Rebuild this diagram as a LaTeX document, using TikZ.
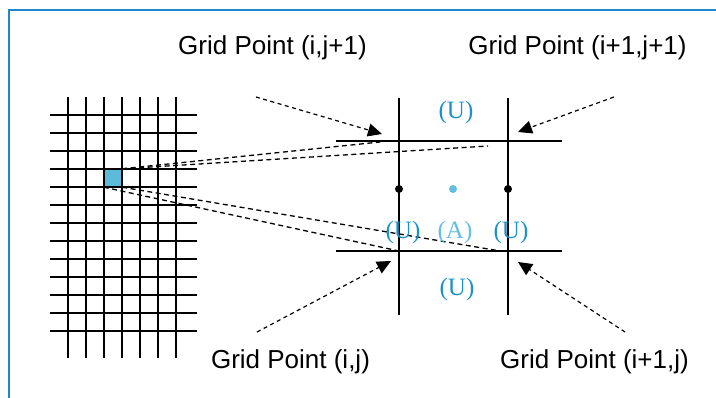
\documentclass[tikz,border=0pt]{standalone}
\usepackage{fontspec}
\setmainfont{Liberation Serif}
\newfontfamily\labelfont{Liberation Sans}
\usetikzlibrary{arrows.meta}
\definecolor{framecol}{RGB}{30,136,200}
\definecolor{cellcol}{RGB}{92,186,218}
\definecolor{ucol}{RGB}{28,146,200}
\definecolor{acol}{RGB}{100,190,225}
\begin{document}
\begin{tikzpicture}[x=1pt, y=-1pt, >={Triangle[length=14pt,width=13pt]},
  gridline/.style={line width=1.6pt},
  zoomline/.style={line width=1.3pt, dash pattern=on 5pt off 3.5pt},
  pointer/.style={->, line width=1.2pt, dash pattern=on 4pt off 3.5pt},
  gplabel/.style={font=\labelfont\fontsize{26}{30}\selectfont, inner sep=0pt},
  ulabel/.style={font=\fontsize{25}{28}\selectfont, text=ucol, inner sep=0pt},
  dot/.style={circle, fill, inner sep=0pt, minimum size=8pt}]
\useasboundingbox (0,0) rectangle (716,398);
% frame
\draw[framecol, line width=2pt] (9,398) -- (9,10) -- (716,10);
% coarse mesh with the marked cell
\node[fill=cellcol, minimum size=18pt, inner sep=0pt] (cell) at (113,178) {};
\foreach \x in {0,...,6} \draw[gridline] (68+18*\x,97) -- (68+18*\x,358);
\foreach \y in {0,...,12} \draw[gridline] (50,115+18*\y) -- (197,115+18*\y);
% enlarged cell
\draw[line width=1.3pt] (399,98) -- (399,315);
\draw[line width=1.3pt] (508,98) -- (508,315);
\draw[line width=1.3pt] (336,141) -- (562,141);
\draw[line width=1.3pt] (336,251) -- (562,251);
\coordinate (gp00) at (399,251);
\coordinate (gp10) at (508,251);
\coordinate (gp01) at (399,141);
\coordinate (gp11) at (508,141);
\node[dot] (uw) at (399,189) {};
\node[dot] (ue) at (508,189) {};
\node[dot, acol] (ac) at (453,189) {};
% projection lines
\coordinate (z1) at (380,142);
\coordinate (z2) at (488,146);
\coordinate (z3) at (500,251);
\draw[zoomline] (cell.north east) -- (z1);
\draw[zoomline] (cell.north east) -- (z2);
\draw[zoomline] (cell.south west) -- (gp00);
\draw[zoomline] (cell.south east) -- (z3);
% variable labels
\node[ulabel] (un) at (456,112) {(U)};
\node[ulabel] (us) at (457,289) {(U)};
\node[ulabel] (ul) at (403,232) {(U)};
\node[ulabel] (ur) at (511,232) {(U)};
\node[ulabel, text=acol] (aa) at (455,232) {(A)};
% grid point labels
\node[gplabel] (l01) at (272.5,48) {Grid Point (i,j+1)};
\node[gplabel] (l11) at (577.5,48) {Grid Point (i+1,j+1)};
\node[gplabel] (l00) at (290.5,362) {Grid Point (i,j)};
\node[gplabel] (l10) at (594.5,362) {Grid Point (i+1,j)};
\coordinate (s01) at (256,97);
\coordinate (s11) at (614,97);
\coordinate (s00) at (257,332);
\coordinate (s10) at (625,332);
\coordinate (t01) at (382,134);
\coordinate (t11) at (518,132);
\coordinate (t00) at (391,261);
\coordinate (t10) at (518,262);
\draw[pointer] (s01) -- (t01);
\draw[pointer] (s11) -- (t11);
\draw[pointer] (s00) -- (t00);
\draw[pointer] (s10) -- (t10);
\end{tikzpicture}
\end{document}
